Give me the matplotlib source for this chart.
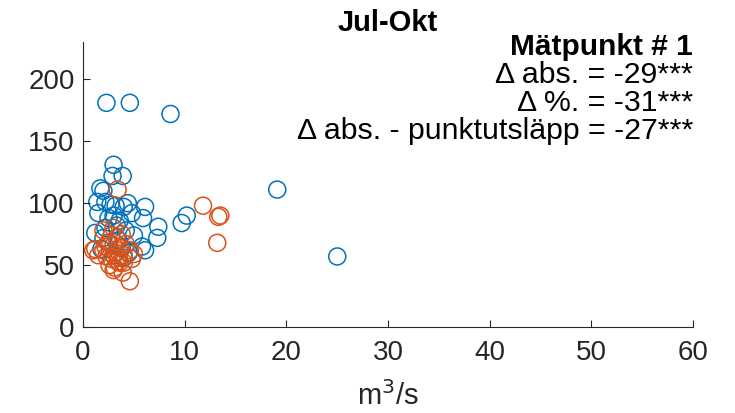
import matplotlib
matplotlib.use("Agg")
import matplotlib.pyplot as plt

plt.rcParams['font.family'] = ['Liberation Sans', 'DejaVu Sans']

# flow (m3/s) vs concentration, before and after
blue_x = [2.3, 4.6, 8.6, 19.1, 25.0, 3.0, 2.9, 3.9, 1.7, 2.0, 1.4, 2.2, 2.7, 3.2,
          4.4, 4.0, 6.1, 1.5, 2.5, 3.0, 3.6, 4.8, 5.9, 3.3, 2.2, 4.2, 7.4, 9.7,
          10.2, 1.2, 2.0, 3.5, 5.0, 7.3, 5.8, 6.1, 2.5, 3.8, 4.5, 1.8, 3.0, 4.0]
blue_y = [181, 181, 172, 111, 57, 131, 122, 122, 112, 110, 101, 101, 99, 98,
          100, 97, 97, 92, 88, 90, 86, 92, 88, 82, 80, 78, 81, 84,
          90, 76, 72, 70, 74, 72, 65, 62, 68, 64, 60, 63, 58, 56]

orange_x = [3.4, 11.8, 13.5, 13.3, 13.2, 4.6, 2.0, 2.8, 3.3, 2.5, 3.0, 3.6, 4.2,
            1.0, 1.5, 2.0, 2.3, 2.8, 3.2, 3.5, 4.0, 4.6, 5.0, 2.6, 3.1, 3.6,
            4.0, 3.0, 3.9, 3.4, 4.8, 1.2, 2.2, 3.8, 3.0]
orange_y = [111, 98, 90, 89, 68, 37, 78, 74, 72, 68, 66, 64, 67,
            62, 58, 62, 57, 55, 60, 56, 58, 62, 59, 50, 48, 52,
            52, 46, 44, 53, 55, 63, 65, 75, 80]

fig = plt.figure(figsize=(7.35, 4.13), dpi=100)
ax = fig.add_axes([0.113, 0.208, 0.83, 0.69])

ax.scatter(blue_x, blue_y, s=150, facecolors='none', edgecolors='#0072BD', linewidths=1.1)
ax.scatter(orange_x, orange_y, s=150, facecolors='none', edgecolors='#D95319', linewidths=1.1)

ax.set_xlim(0, 60)
ax.set_ylim(0, 230)
ax.set_xticks(range(0, 61, 10))
ax.set_yticks([0, 50, 100, 150, 200])
for s in ['top', 'right']:
    ax.spines[s].set_visible(False)
for s in ['left', 'bottom']:
    ax.spines[s].set_color('#262626')
ax.tick_params(direction='in', labelsize=20, colors='#262626', length=5)
ax.tick_params(axis='x', pad=9)
ax.tick_params(axis='y', pad=6)
ax.set_xlabel('m$^3$/s', fontsize=21, color='#262626', labelpad=11)
ax.set_title('Jul-Okt', fontsize=21, fontweight='bold', pad=8)

lines = ['\u0394 abs. = -29***', '\u0394 %. = -31***', '\u0394 abs. - punktutsläpp = -27***']
ax.text(1.0, 0.982, 'Mätpunkt # 1', transform=ax.transAxes, ha='right', va='center',
        fontsize=21.5, fontweight='bold')
for i, t in enumerate(lines):
    ax.text(1.0, 0.982 - (i + 1) * 0.098, t, transform=ax.transAxes, ha='right',
            va='center', fontsize=21.8)

fig.savefig('out.png', dpi=100)
